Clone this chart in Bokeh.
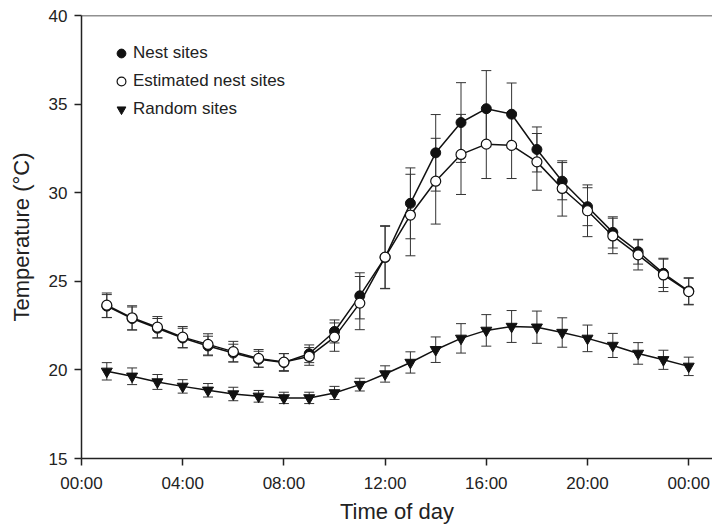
from bokeh.plotting import figure
from bokeh.models import (ColumnDataSource, Whisker, TeeHead, FixedTicker, Range1d,
                          Span, Legend, LegendItem)
from bokeh.embed import file_html
from bokeh.resources import INLINE

hours = list(range(1, 25))

nest = [23.60, 22.90, 22.35, 21.80, 21.35, 20.95, 20.60, 20.42, 20.91, 22.17, 24.18, 26.35,
        29.40, 32.25, 33.96, 34.74, 34.43, 32.44, 30.65, 29.21, 27.76, 26.67, 25.45, 24.45]
nest_err = [0.65, 0.65, 0.55, 0.55, 0.55, 0.50, 0.45, 0.50, 0.50, 0.65, 1.30, 1.75,
            2.00, 2.16, 2.25, 2.15, 1.76, 1.27, 1.05, 1.07, 0.88, 0.70, 0.80, 0.75]

est = [23.65, 22.94, 22.41, 21.85, 21.44, 21.03, 20.65, 20.44, 20.76, 21.85, 23.77, 26.36,
       28.74, 30.65, 32.16, 32.74, 32.67, 31.74, 30.24, 28.98, 27.56, 26.49, 25.36, 24.42]
est_err = [0.69, 0.68, 0.60, 0.60, 0.60, 0.58, 0.50, 0.48, 0.50, 0.80, 1.50, 1.78,
           2.30, 2.42, 2.26, 1.94, 1.87, 1.60, 1.56, 1.46, 1.00, 0.85, 0.94, 0.75]

rand = [19.92, 19.64, 19.32, 19.07, 18.85, 18.64, 18.51, 18.42, 18.42, 18.70, 19.17, 19.77,
        20.42, 21.14, 21.78, 22.23, 22.45, 22.41, 22.11, 21.78, 21.38, 20.93, 20.57, 20.20]
rand_err = [0.49, 0.47, 0.42, 0.38, 0.38, 0.38, 0.33, 0.32, 0.32, 0.37, 0.36, 0.46,
            0.60, 0.72, 0.83, 0.89, 0.90, 0.91, 0.83, 0.75, 0.68, 0.61, 0.54, 0.52]

x_ticks = [0, 4, 8, 12, 16, 20, 24]
x_tick_labels = ["00:00", "04:00", "08:00", "12:00", "16:00", "20:00", "00:00"]
y_ticks = [15, 20, 25, 30, 35, 40]

FONT = "Liberation Sans"


def src(vals, errs):
    return ColumnDataSource(dict(
        x=hours, y=vals,
        upper=[v + e for v, e in zip(vals, errs)],
        lower=[v - e for v, e in zip(vals, errs)],
    ))


p = figure(width=712, height=526, output_backend="svg", toolbar_location=None,
           x_range=Range1d(0, 24.94), y_range=Range1d(15, 40),
           min_border_left=81, min_border_top=15, min_border_right=0, min_border_bottom=67)
p.outline_line_color = None
p.xgrid.visible = False
p.ygrid.visible = False
p.background_fill_color = "white"

for ax in (p.xaxis[0], p.yaxis[0]):
    ax.axis_line_width = 1.5
    ax.axis_line_color = "#222222"
    ax.major_tick_line_width = 1.5
    ax.major_tick_line_color = "#222222"
    ax.major_tick_out = 7
    ax.major_tick_in = 0
    ax.minor_tick_line_color = None
    ax.major_label_text_font = FONT
    ax.major_label_text_font_size = "17px"
    ax.major_label_text_color = "#222222"
    ax.axis_label_text_font = FONT
    ax.axis_label_text_font_size = "22px"
    ax.axis_label_text_font_style = "normal"
    ax.axis_label_text_color = "#222222"

p.xaxis.ticker = FixedTicker(ticks=x_ticks)
p.xaxis.major_label_overrides = {t: l for t, l in zip(x_ticks, x_tick_labels)}
p.xaxis.major_label_standoff = 8
p.xaxis.axis_label = "Time of day"
p.xaxis.axis_label_standoff = 3

p.yaxis.ticker = FixedTicker(ticks=y_ticks)
p.yaxis.major_label_standoff = 7
p.yaxis.axis_label = "Temperature (°C)"
p.yaxis.axis_label_standoff = 12

p.add_layout(Span(location=40, dimension="width", line_color="#222222", line_width=1.5))

s_rand = src(rand, rand_err)
s_nest = src(nest, nest_err)
s_est = src(est, est_err)

for s in (s_rand, s_nest, s_est):
    p.add_layout(Whisker(source=s, base="x", upper="upper", lower="lower",
                         line_color="#333333", line_width=1,
                         upper_head=TeeHead(size=10, line_color="#333333", line_width=1),
                         lower_head=TeeHead(size=10, line_color="#333333", line_width=1)))

p.line("x", "y", source=s_rand, line_color="#111111", line_width=1.5)
r_rand = p.scatter("x", "y", source=s_rand, marker="inverted_triangle", size=11,
                   fill_color="#111111", line_color="#111111")
p.line("x", "y", source=s_nest, line_color="#111111", line_width=1.5)
r_nest = p.scatter("x", "y", source=s_nest, marker="circle", size=10,
                   fill_color="#111111", line_color="#111111")
p.line("x", "y", source=s_est, line_color="#111111", line_width=1.5)
r_est = p.scatter("x", "y", source=s_est, marker="circle", size=10,
                  fill_color="white", line_color="#111111", line_width=1.2)

legend = Legend(items=[
    LegendItem(label="Nest sites", renderers=[r_nest]),
    LegendItem(label="Estimated nest sites", renderers=[r_est]),
    LegendItem(label="Random sites", renderers=[r_rand]),
], location=(29, 338), border_line_color=None, background_fill_alpha=0,
    padding=0, margin=0, spacing=6, glyph_width=22, glyph_height=22,
    label_height=22, label_standoff=1,
    label_text_font=FONT, label_text_font_size="17px", label_text_color="#222222")
p.add_layout(legend)

open("out.html", "w").write(file_html(p, INLINE))
